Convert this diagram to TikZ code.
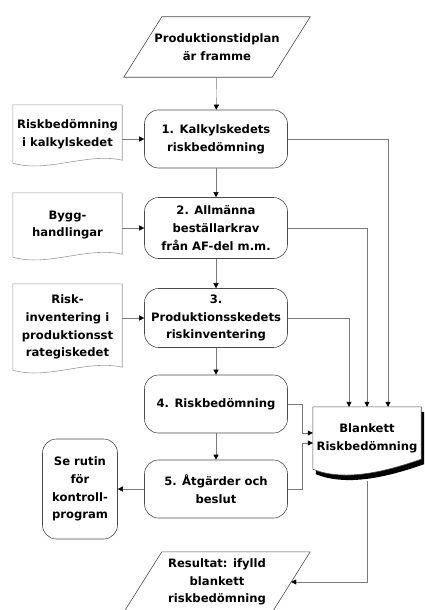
\documentclass[tikz,border=0pt]{standalone}
\usepackage{fontspec}
\setmainfont{DejaVu Sans}
\usetikzlibrary{arrows.meta,backgrounds}
\definecolor{inkgrey}{HTML}{4A4A4A}
\definecolor{linegrey}{HTML}{7A7A7A}
\definecolor{docgrey}{HTML}{9A9A9A}
\tikzset{
  fc/.style={align=center, font=\fontsize{11.6}{17.8}\selectfont\bfseries, inner sep=1pt},
  fc step/.style={fc, draw=inkgrey, semithick, rounded corners=14pt, minimum width=143pt},
  fc io/.style={fc, minimum width=148pt, minimum height=60pt},
  fc doc/.style={fc, minimum width=109pt},
  fc edge/.style={draw=inkgrey, semithick},
  fc docline/.style={draw=docgrey, semithick},
  fc arr/.style={-{Triangle[length=5pt, width=5pt, color=black]}, linegrey},
}

\begin{document}
\begin{tikzpicture}[x=1pt, y=-1pt]
  \useasboundingbox (0,0) rectangle (425,610);
  % main column
  \node[fc io] (plan) at (217,47) {Produktionstidplan\\är framme};
  \node[fc step, minimum height=58pt] (k1) at (216,139) {1. Kalkylskedets\\riskbedömning};
  \node[fc step, minimum height=61pt] (k2) at (216,228) {2. Allmänna\\beställarkrav\\från AF-del m.m.};
  \node[fc step, minimum height=59pt] (k3) at (216,318) {3.\\Produktionsskedets\\riskinventering};
  \node[fc step, minimum height=58pt] (k4) at (216,404) {4. Riskbedömning};
  \node[fc step, minimum height=58pt] (k5) at (216,489) {5. Åtgärder och\\beslut};
  \node[fc io] (res) at (217,582) {Resultat: ifylld\\blankett\\riskbedömning};
  % inputs on the left
  \node[fc doc, minimum height=58pt] (d1) at (67.5,134) {Riskbedömning\\i kalkylskedet};
  \node[fc doc, minimum height=64pt] (d2) at (67.5,225) {Bygg-\\handlingar};
  \node[fc doc, minimum height=86pt] (d3) at (67.5,327) {Risk-\\inventering i\\produktionsst\\rategiskedet};
  \node[fc step, minimum width=75pt, minimum height=100pt] (rutin) at (80,489) {Se rutin\\för\\kontroll-\\program};
  % form
  \node[fc, minimum width=108pt, minimum height=62pt] (blank) at (367,438) {Blankett\\Riskbedömning};

  % parallelograms
  \foreach \n in {plan,res}
    \draw[fc edge] ([xshift=19pt]\n.north west) -- ([xshift=19pt]\n.north east)
      -- ([xshift=-19pt]\n.south east) -- ([xshift=-19pt]\n.south west) -- cycle;
  % document outlines
  \foreach \n in {d1,d2,d3}
    \draw[fc docline] (\n.south west) -- (\n.north west) -- (\n.north east) -- ([yshift=3pt]\n.south east)
      .. controls +(-35,-8) and +(35,10) .. (\n.south west);
  \begin{scope}[on background layer]
    \fill[black] ([shift={(3pt,-5pt)}]blank.north west) -- ([shift={(3pt,-5pt)}]blank.north east)
      -- ([shift={(3pt,5pt)}]blank.south east) .. controls +(-40,14) and +(30,12) .. ([shift={(3pt,-5pt)}]blank.south west) -- cycle;
    \draw[fc edge, fill=white] (blank.north west) -- (blank.north east) -- ([yshift=10pt]blank.south east)
      .. controls +(-40,14) and +(30,12) .. (blank.south west) -- cycle;
  \end{scope}

  % connectors
  \foreach \a/\b in {plan/k1,k1/k2,k2/k3,k3/k4,k4/k5,k5/rutin}
    \draw[fc arr] (\a) -- (\b);
  \foreach \i in {1,2,3}
    \draw[fc arr] (d\i.east |- k\i) -- (k\i);
  \draw[fc arr] (k1) -| ([xshift=21pt]blank.north);
  \draw[fc arr] (k2) -| (blank.north);
  \draw[fc arr] (k3) -| ([xshift=-18pt]blank.north);
  \draw[fc arr] (k4) -| ([xshift=-11pt, yshift=5pt]blank.west) -- ([yshift=5pt]blank.west);
  \draw[fc arr] (k5) -| ([xshift=-11pt, yshift=-5pt]blank.west) -- ([yshift=-5pt]blank.west);
  \draw[fc arr] ([yshift=-12pt]blank.south) |- (res.east);
\end{tikzpicture}
\end{document}
